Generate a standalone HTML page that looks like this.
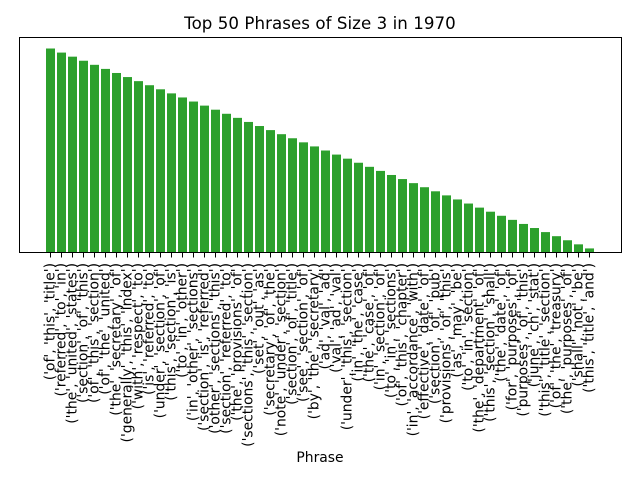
<!DOCTYPE html>
<html>
<head>
<meta charset="utf-8">
<title>Top 50 Phrases of Size 3 in 1970</title>
<style>
html,body{margin:0;padding:0;background:#fff;width:640px;height:480px;overflow:hidden}
svg{display:block;font-family:"DejaVu Sans","Liberation Sans",sans-serif;fill:#000}
</style>
</head>
<body>
<svg id="chart" width="640" height="480" viewBox="0 0 640 480" xmlns="http://www.w3.org/2000/svg">
  <rect x="0" y="0" width="640" height="480" fill="#fff"/>
  <text x="320" y="29" text-anchor="middle" font-size="16.67" letter-spacing="0.05">Top 50 Phrases of Size 3 in 1970</text>
  <g id="bars"></g>
  <g id="ticks"></g>
  <rect x="19.5" y="37.5" width="602" height="215" fill="none" stroke="#000" stroke-width="1"/>
  <text x="320" y="462" text-anchor="middle" font-size="13.89">Phrase</text>
</svg>
<script>
const categories = [
  "('of', 'this', 'title')","('referred', 'to', 'in')","('the', 'united', 'states')","('section', 'of', 'this')","('of', 'this', 'section')",
  "('of', 'the', 'united')","('the', 'secretary', 'of')","('generally', 'this', 'index')","('with', 'respect', 'to')","('is', 'referred', 'to')",
  "('under', 'section', 'of')","('this', 'section', 'is')","('to', 'in', 'other')","('in', 'other', 'sections')","('section', 'is', 'referred')",
  "('other', 'sections', 'this')","('section', 'referred', 'to')","('the', 'provisions', 'of')","('sections', 'this', 'section')","('set', 'out', 'as')",
  "('secretary', 'of', 'the')","('note', 'under', 'section')","('section', 'of', 'title')","('see', 'section', 'of')","('by', 'the', 'secretary')",
  "('ad', 'val', 'ad')","('val', 'ad', 'val')","('under', 'this', 'section')","('in', 'the', 'case')","('the', 'case', 'of')",
  "('in', 'section', 'of')","('to', 'in', 'sections')","('of', 'this', 'chapter')","('in', 'accordance', 'with')","('effective', 'date', 'of')",
  "('section', 'of', 'pub')","('provisions', 'of', 'this')","('as', 'may', 'be')","('to', 'in', 'section')","('the', 'department', 'of')",
  "('this', 'section', 'shall')","('the', 'date', 'of')","('for', 'purposes', 'of')","('purposes', 'of', 'this')","('june', 'ch', 'stat')",
  "('this', 'title', 'section')","('of', 'the', 'treasury')","('the', 'purposes', 'of')","('shall', 'not', 'be')","('this', 'title', 'and')"
];
const values = [
  50,49,48,47,46,45,44,43,42,41,
  40,39,38,37,36,35,34,33,32,31,
  30,29,28,27,26,25,24,23,22,21,
  20,19,18,17,16,15,14,13,12,11,
  10,9,8,7,6,5,4,3,2,1
];

const plotLeft = 19.5, plotBaseline = 252.5;
const firstCenter = 50.5, bandStep = 11, barWidth = 9, unitHeight = 4.08;
const xScale = i => firstCenter + i * bandStep;
const yScale = v => plotBaseline - v * unitHeight;
const NS = 'http://www.w3.org/2000/svg';
const barsGroup = document.getElementById('bars');
const ticksGroup = document.getElementById('ticks');

categories.forEach((label, i) => {
  const cx = xScale(i);

  const bar = document.createElementNS(NS, 'rect');
  
  
  bar.setAttribute('x', cx - barWidth / 2);
  bar.setAttribute('y', yScale(values[i]));
  bar.setAttribute('width', barWidth);
  bar.setAttribute('height', plotBaseline - yScale(values[i]));
  bar.setAttribute('fill', '#2ca02c');
  barsGroup.appendChild(bar);

  const tick = document.createElementNS(NS, 'line');
  
  
  tick.setAttribute('x1', cx);
  tick.setAttribute('x2', cx);
  tick.setAttribute('y1', plotBaseline);
  tick.setAttribute('y2', plotBaseline + 5);
  tick.setAttribute('stroke', '#000');
  tick.setAttribute('stroke-width', '1');
  ticksGroup.appendChild(tick);

  const text = document.createElementNS(NS, 'text');
  
  
  text.setAttribute('font-size', '13.89');
  text.setAttribute('text-anchor', 'end');
  text.setAttribute('transform', 'translate(' + (cx + 4) + ' 263) rotate(-90)');
  text.textContent = label;
  ticksGroup.appendChild(text);
});
</script>
</body>
</html>
